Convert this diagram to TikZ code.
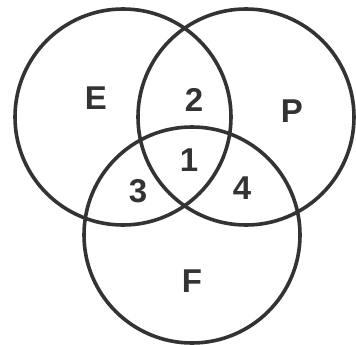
\documentclass[tikz,border=0pt]{standalone}
\usepackage{fontspec}
\setmainfont{Liberation Sans}
\usetikzlibrary{positioning}
\definecolor{ink}{HTML}{333333}

\begin{document}
\begin{tikzpicture}[x=1pt,y=-1pt,
    set/.style={circle, draw=ink, line width=3.6pt, minimum size=216pt, inner sep=0pt},
    lbl/.style={font=\fontsize{33}{35}\selectfont\bfseries, text=ink, inner sep=0pt}]
  \useasboundingbox (0,0) rectangle (356,345);

  % Circles
  \node[set] (E) at (123,117) {};
  \node[set] (P) at (246,117) {};
  \node[set] (F) at (192,235) {};

  % Set names
  \node[lbl] (nameE) at (96,98) {E};
  \node[lbl] (nameP) at (292,111) {P};
  \node[lbl] (nameF) at (192,281) {F};

  % Regions
  \node[lbl] (r1) at (189,160) {1};
  \node[lbl] (r2) at (194,100) {2};
  \node[lbl] (r3) at (138,191) {3};
  \node[lbl] (r4) at (242,188) {4};
\end{tikzpicture}
\end{document}
